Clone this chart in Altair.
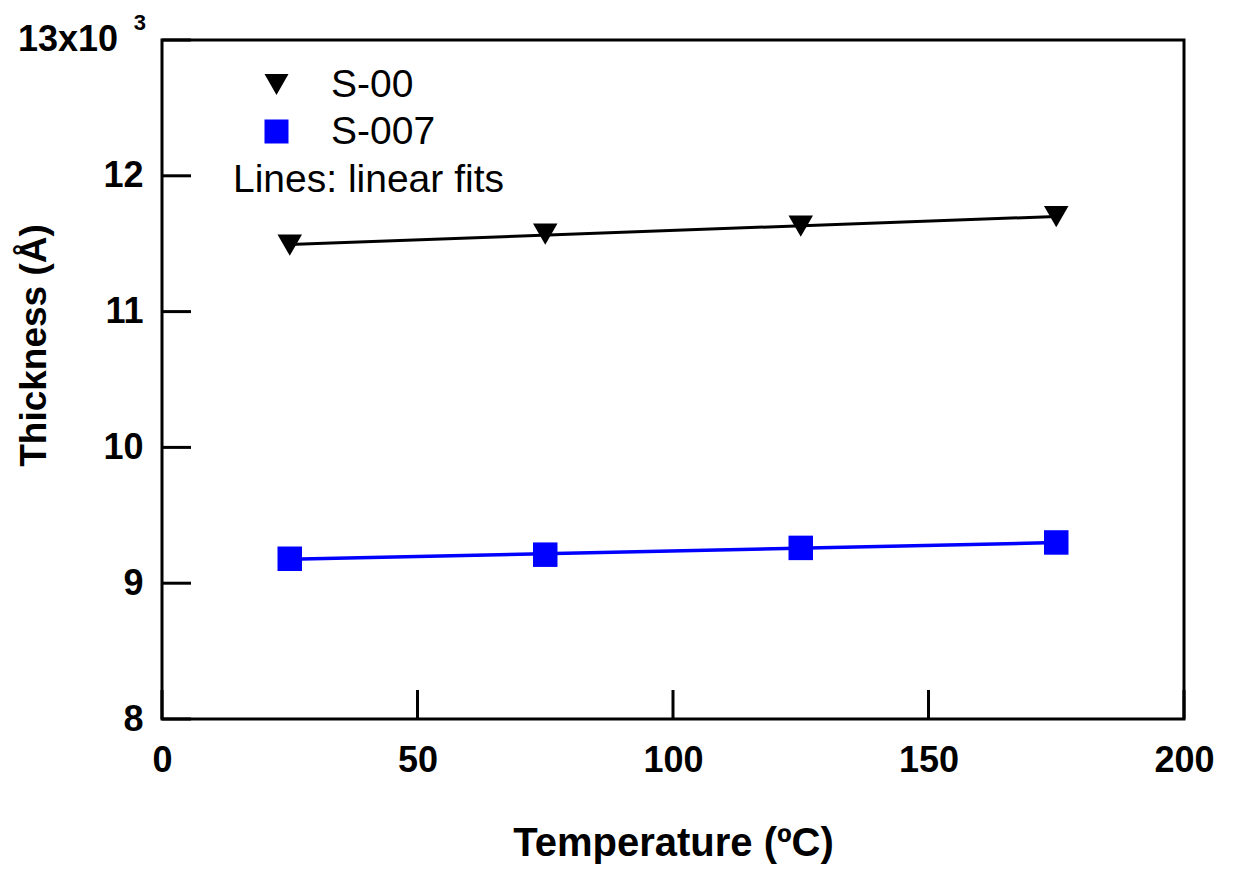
import altair as alt
import pandas as pd

# ---- data ----
temperature = [25, 75, 125, 175]
thickness_s00 = [11490, 11570, 11630, 11700]
thickness_s007 = [9180, 9210, 9260, 9300]
series_names = ["S-00", "S-007"]
series_colors = ["#000000", "#0000ff"]
series_shapes = ["triangle-down", "square"]
x_ticks = [0, 50, 100, 150, 200]
y_ticks = [8000, 9000, 10000, 11000, 12000, 13000]
top_label = ["13x10"]
top_label_sup = ["3"]

df = pd.DataFrame({
    "T": temperature * 2,
    "thk": thickness_s00 + thickness_s007,
    "series": [series_names[0]] * len(temperature) + [series_names[1]] * len(temperature),
})

W, H = 1022, 679
FONT = "Liberation Sans"
TICK_LEN = 29

xs = alt.Scale(domain=[0, 200], nice=False, zero=False)
ys = alt.Scale(domain=[8000, 13000], nice=False, zero=False)

xaxis = alt.Axis(
    title="Temperature (ºC)", values=x_ticks, ticks=False, tickSize=0, domain=False, grid=False,
    labelFont=FONT, labelFontWeight="bold", labelFontSize=36, labelColor="black",
    labelPadding=24, labelFlush=False, labelOverlap=False,
    titleFont=FONT, titleFontWeight="bold", titleFontSize=40, titleColor="black",
    titleBaseline="alphabetic", titleY=136,
)
yaxis = alt.Axis(
    title="Thickness (Å)", values=y_ticks, ticks=False, tickSize=0, domain=False, grid=False,
    labelExpr="datum.value == 13000 ? '' : format(datum.value / 1000, 'd')",
    labelFont=FONT, labelFontWeight="bold", labelFontSize=36, labelColor="black",
    labelPadding=19, labelFlush=False, labelOverlap=False,
    titleFont=FONT, titleFontWeight="bold", titleFontSize=37, titleColor="black",
    titleBaseline="alphabetic", titleAngle=270, titleAlign="center", titleX=-117, titleY=305,
)

legend = alt.Legend(
    orient="none", legendX=71, legendY=25, direction="vertical",
    title="Lines: linear fits", titleOrient="bottom", titleAnchor="start",
    titleFont=FONT, titleFontSize=39, titleFontWeight="normal", titleColor="black",
    titleLimit=600, titlePadding=9,
    labelFont=FONT, labelFontSize=39, labelColor="black", labelLimit=400,
    labelOffset=35, symbolOffset=24, symbolSize=576, symbolStrokeWidth=0,
    symbolOpacity=1, rowPadding=7, padding=0,
)

color = alt.Color("series:N", scale=alt.Scale(domain=series_names, range=series_colors), legend=legend)
shape = alt.Shape("series:N", scale=alt.Scale(domain=series_names, range=series_shapes), legend=legend)

base = alt.Chart(df)


def fit_line(name, col, width):
    return base.transform_filter(alt.datum.series == name).transform_regression(
        "T", "thk"
    ).mark_line(color=col, strokeWidth=width).encode(
        x=alt.X("T:Q", scale=xs, axis=xaxis),
        y=alt.Y("thk:Q", scale=ys, axis=yaxis),
    )


lines = [fit_line(series_names[0], series_colors[0], 3),
         fit_line(series_names[1], series_colors[1], 3.5)]

points = base.mark_point(filled=True, opacity=1, size=600, strokeWidth=0).encode(
    x=alt.X("T:Q", scale=xs, axis=xaxis),
    y=alt.Y("thk:Q", scale=ys, axis=yaxis),
    color=color,
    shape=shape,
)

xtick_layer = alt.Chart(pd.DataFrame({"T": x_ticks})).mark_rule(color="black", strokeWidth=3).encode(
    x=alt.X("T:Q", scale=xs, axis=xaxis),
    y=alt.value(H),
    y2=alt.value(H - TICK_LEN),
)
ytick_layer = alt.Chart(pd.DataFrame({"thk": y_ticks})).mark_rule(color="black", strokeWidth=3).encode(
    y=alt.Y("thk:Q", scale=ys, axis=yaxis),
    x=alt.value(0),
    x2=alt.value(TICK_LEN),
)

top_df = pd.DataFrame({"thk": [y_ticks[-1]], "t": top_label, "s": top_label_sup})
top_text = alt.Chart(top_df).mark_text(
    align="right", baseline="middle", font=FONT, fontSize=36, fontWeight="bold", color="black"
).encode(
    x=alt.value(-44), y=alt.Y("thk:Q", scale=ys, axis=yaxis), text="t:N"
)
top_sup = alt.Chart(top_df).mark_text(
    align="right", baseline="middle", font=FONT, fontSize=22, fontWeight="bold", color="black", dy=-17
).encode(
    x=alt.value(-16), y=alt.Y("thk:Q", scale=ys, axis=yaxis), text="s:N"
)

chart = alt.layer(
    xtick_layer, ytick_layer, *lines, points, top_text, top_sup
).properties(
    width=W, height=H,
    autosize=alt.AutoSizeParams(type="none"),
    padding={"left": 154, "top": 32, "right": 30, "bottom": 147},
    background="white",
).configure_view(stroke="black", strokeWidth=3)

chart.save("out.html", embed_options={"renderer": "svg", "actions": False})
